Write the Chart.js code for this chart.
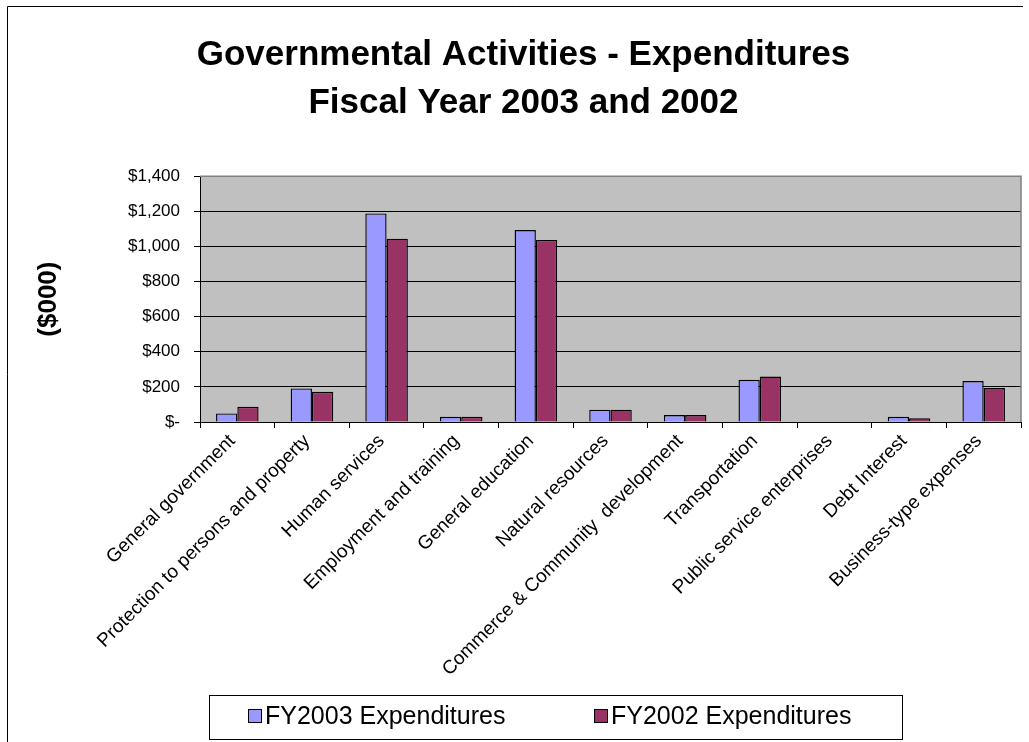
<!DOCTYPE html>
<html>
<head>
<meta charset="utf-8">
<title>Governmental Activities - Expenditures</title>
<script src="https://cdn.jsdelivr.net/npm/chart.js@4/dist/chart.umd.min.js"></script>
<style>
    body { margin: 0; background: #fff; }
    #wrap { width: 1029px; height: 742px; position: relative; }
</style>
</head>
<body>
<div id="wrap"><canvas id="expChart"></canvas></div>
<script>
const categories = [
    'General government',
    'Protection to persons and property',
    'Human services',
    'Employment and training',
    'General education',
    'Natural resources',
    'Commerce & Community  development',
    'Transportation',
    'Public service enterprises',
    'Debt Interest',
    'Business-type expenses'
];
const fy2003 = [49, 191, 1188, 30, 1093, 70, 40, 240, 0, 30, 233];
const fy2002 = [87, 172, 1044, 30, 1037, 70, 40, 259, 0, 21, 193];
const yTicks = [0, 200, 400, 600, 800, 1000, 1200, 1400];

const FONT = '"Liberation Sans", Arial, sans-serif';

// grey plot background plus the outer chart frame
const plotBackground = {
    id: 'plotBackground',
    beforeDraw(chart) {
        const { ctx, chartArea: a } = chart;
        ctx.save();
        ctx.fillStyle = '#C0C0C0';
        ctx.fillRect(a.left, a.top, a.right - a.left, a.bottom - a.top);
        ctx.strokeStyle = '#000';
        ctx.lineWidth = 1;
        ctx.beginPath();
        ctx.moveTo(7.5, 742);
        ctx.lineTo(7.5, 6.5);
        ctx.lineTo(1023, 6.5);
        ctx.stroke();
        ctx.restore();
    },
    afterDatasetsDraw(chart) {
        const { ctx, chartArea: a } = chart;
        ctx.save();
        ctx.strokeStyle = '#808080';
        ctx.lineWidth = 1.5;
        ctx.beginPath();
        ctx.moveTo(a.left, a.top);
        ctx.lineTo(a.right, a.top);
        ctx.lineTo(a.right, a.bottom);
        ctx.stroke();
        ctx.restore();
    }
};

// boxed legend below the axis labels
const legendBox = {
    id: 'legendBox',
    afterDraw(chart) {
        const ctx = chart.ctx;
        ctx.save();
        ctx.fillStyle = '#fff';
        ctx.strokeStyle = '#000';
        ctx.lineWidth = 1;
        ctx.fillRect(209.5, 695.5, 693, 44);
        ctx.strokeRect(209.5, 695.5, 693, 44);
        const starts = [248, 594];
        chart.data.datasets.forEach((ds, i) => {
            const x = starts[i];
            ctx.fillStyle = ds.backgroundColor;
            ctx.fillRect(x + 0.5, 709.5, 13, 13);
            ctx.strokeRect(x + 0.5, 709.5, 13, 13);
            ctx.fillStyle = '#000';
            ctx.font = '25px ' + FONT;
            ctx.textBaseline = 'middle';
            ctx.textAlign = 'left';
            ctx.fillText(ds.label, x + 17, 717);
        });
        ctx.restore();
    }
};

const ctx = document.getElementById('expChart').getContext('2d');
new Chart(ctx, {
    type: 'bar',
    data: {
        labels: categories,
        datasets: [{
            label: 'FY2003 Expenditures',
            data: fy2003,
            backgroundColor: '#9999FF',
            borderColor: '#000',
            borderWidth: 1.4,
            barPercentage: 1,
            categoryPercentage: 0.57
        }, {
            label: 'FY2002 Expenditures',
            data: fy2002,
            backgroundColor: '#993366',
            borderColor: '#000',
            borderWidth: 1.4,
            barPercentage: 1,
            categoryPercentage: 0.57
        }]
    },
    options: {
        responsive: true,
        maintainAspectRatio: false,
        animation: false,
        layout: {
            padding: { top: 8, left: 26, right: 8, bottom: 60 }
        },
        plugins: {
            legend: { display: false },
            tooltip: { enabled: false },
            title: {
                display: true,
                text: ['Governmental Activities - Expenditures', 'Fiscal Year 2003 and 2002'],
                color: '#000',
                font: { family: FONT, size: 35, weight: 'bold', lineHeight: 1.36 },
                padding: { top: 24, bottom: 49 }
            }
        },
        scales: {
            x: {
                offset: true,
                afterFit(scale) { scale.height = 260; },
                grid: {
                    offset: true,
                    drawOnChartArea: false,
                    tickLength: 6,
                    color: '#000'
                },
                border: { color: '#000', width: 1 },
                ticks: {
                    color: '#000',
                    minRotation: 45,
                    maxRotation: 45,
                    autoSkip: false,
                    padding: 2,
                    labelOffset: -5,
                    font: { family: FONT, size: 19 }
                }
            },
            y: {
                min: 0,
                max: 1400,
                afterFit(scale) { scale.width = 174; },
                afterBuildTicks(scale) {
                    scale.ticks = yTicks.map(v => ({ value: v }));
                },
                grid: {
                    color: '#000',
                    lineWidth: 1,
                    tickLength: 6
                },
                border: { color: '#000', width: 1 },
                ticks: {
                    color: '#000',
                    padding: 14,
                    font: { family: FONT, size: 17 },
                    callback: v => v === 0 ? '$-' : '$' + v.toLocaleString('en-US')
                },
                title: {
                    display: true,
                    text: '($000)',
                    color: '#000',
                    font: { family: FONT, size: 26, weight: 'bold' },
                    padding: { top: 7, bottom: 0 }
                }
            }
        }
    },
    plugins: [plotBackground, legendBox]
});
</script>
</body>
</html>
